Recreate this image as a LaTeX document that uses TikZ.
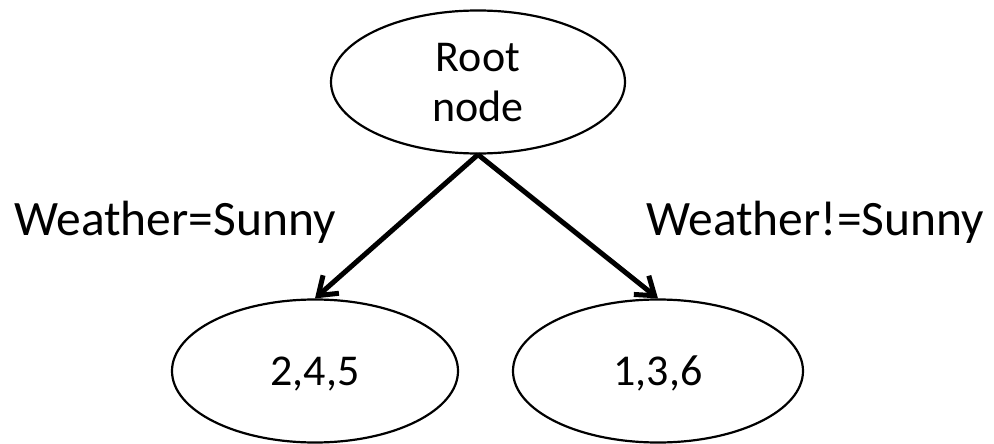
\documentclass[tikz,border=0pt]{standalone}
\usepackage{fontspec}
\setmainfont{Carlito}
\usetikzlibrary{shapes.geometric,arrows.meta}
\tikzset{
  oval/.style={draw=black, line width=2.2pt, ellipse, inner sep=0pt, text depth=0pt,
    font=\fontsize{44}{53}\selectfont, align=center},
  arr/.style={draw=black, line width=5pt, -{Straight Barb[length=17pt,width=24pt]}},
  lbl/.style={inner sep=0pt, anchor=base west, font=\fontsize{49.5}{59}\selectfont}
}
\begin{document}
\begin{tikzpicture}[x=1pt,y=-1pt]
\useasboundingbox (0,0) rectangle (994,444);
\node[oval, minimum width=294pt, minimum height=143pt] (root) at (478,82) {\raisebox{-3pt}{Root}\\node};
\node[oval, minimum width=286pt, minimum height=143pt] (l) at (315,371) {2,4,5};
\node[oval, minimum width=290pt, minimum height=143pt] (r) at (658,371) {1,3,6};
\draw[arr] (root.south) -- (l.north);
\draw[arr] (root.south) -- (r.north);
\node[lbl] (ll) at (14,235) {Weather=Sunny};
\node[lbl] (rl) at (646,235) {Weather!=Sunny};
\end{tikzpicture}
\end{document}
